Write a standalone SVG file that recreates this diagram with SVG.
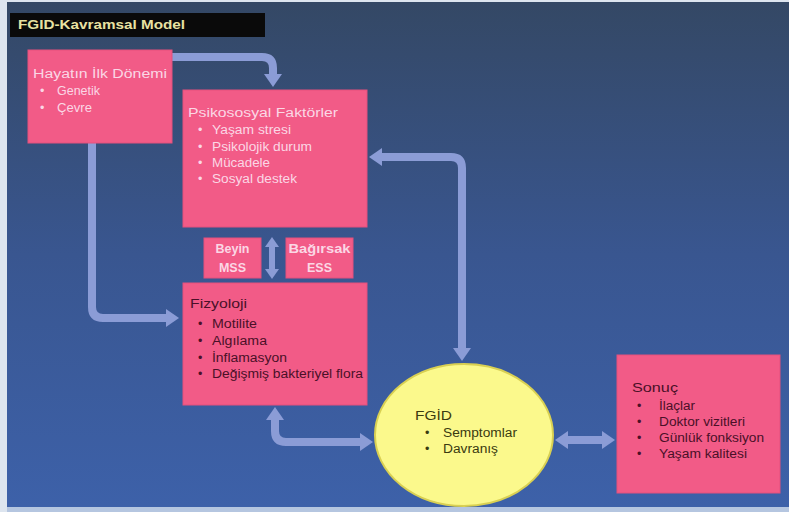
<svg xmlns="http://www.w3.org/2000/svg" width="789" height="512" viewBox="0 0 789 512">
<defs>
<linearGradient id="bg" x1="0" y1="0" x2="0" y2="1">
<stop offset="0" stop-color="#344865"/>
<stop offset="0.5" stop-color="#395690"/>
<stop offset="1" stop-color="#3d61a9"/>
</linearGradient>
<marker id="ah" viewBox="0 -9 13 18" refX="0" refY="0" markerWidth="13" markerHeight="18" markerUnits="userSpaceOnUse" orient="auto-start-reverse">
<path d="M0,-9 L13,0 L0,9 Z" fill="#8b9cd6"/>
</marker>
<marker id="ahs" viewBox="0 -7 10 14" refX="0" refY="0" markerWidth="10" markerHeight="14" markerUnits="userSpaceOnUse" orient="auto-start-reverse">
<path d="M0,-7 L10,0 L0,7 Z" fill="#8b9cd6"/>
</marker>
</defs>
<style>
.box{fill:#f25b87;stroke:#e5507c;stroke-width:1}
.lt{fill:#fbd7e5;font-family:"Liberation Sans",Arial,sans-serif;font-size:12.5px}
.dk{fill:#4a1028;font-family:"Liberation Sans",Arial,sans-serif;font-size:12.5px}
.yk{fill:#3a3a10;font-family:"Liberation Sans",Arial,sans-serif;font-size:12.5px}
.bd{font-weight:bold}
.conn{fill:none;stroke:#8b9cd6;stroke-width:8;marker-end:url(#ah)}
.dbl{marker-start:url(#ah)}
</style>
<rect x="0" y="0" width="789" height="512" fill="#dde5ef"/>
<rect x="7" y="2" width="782" height="505" fill="url(#bg)"/>
<rect x="7" y="507" width="782" height="5" fill="#b5c6e0"/>

<g id="title">
<rect x="10" y="13" width="255" height="24" fill="#0a0a0a"/>
<text x="18" y="29" fill="#e8e2a2" font-family="Liberation Sans,Arial,sans-serif" font-size="12" font-weight="bold" textLength="167" lengthAdjust="spacingAndGlyphs">FGID-Kavramsal Model</text>
</g>

<g id="connectors">
<path class="conn" d="M172,57 H262 Q273,57 273,68 V74"/>
<path class="conn" d="M92,143 V307 Q92,318 103,318 H166"/>
<path class="conn dbl" d="M382,157 H451 Q462,157 462,168 V348"/>
<path class="conn dbl" d="M275,420 V431 Q275,442 286,442 H360"/>
<path class="conn dbl" d="M568,440 H602"/>
<path class="conn" style="stroke-width:6;marker-start:url(#ahs);marker-end:url(#ahs)" d="M272,247 V269"/>
</g>

<g id="hayatin">
<rect class="box" x="28" y="50" width="144" height="93"/>
<text class="lt" x="33" y="78" textLength="134" lengthAdjust="spacingAndGlyphs">Hayatın İlk Dönemi</text>
<text class="lt" x="40" y="95">•</text>
<text class="lt" x="57" y="95" textLength="43" lengthAdjust="spacingAndGlyphs">Genetik</text>
<text class="lt" x="40" y="112">•</text>
<text class="lt" x="57" y="112" textLength="35" lengthAdjust="spacingAndGlyphs">Çevre</text>
</g>

<g id="psikososyal">
<rect class="box" x="183" y="90" width="184" height="137"/>
<text class="lt" x="188" y="117" textLength="150" lengthAdjust="spacingAndGlyphs">Psikososyal Faktörler</text>
<text class="lt" x="198" y="134">•</text>
<text class="lt" x="212" y="134" textLength="79" lengthAdjust="spacingAndGlyphs">Yaşam stresi</text>
<text class="lt" x="198" y="151">•</text>
<text class="lt" x="212" y="151" textLength="100" lengthAdjust="spacingAndGlyphs">Psikolojik durum</text>
<text class="lt" x="198" y="167">•</text>
<text class="lt" x="212" y="167" textLength="58" lengthAdjust="spacingAndGlyphs">Mücadele</text>
<text class="lt" x="198" y="183">•</text>
<text class="lt" x="212" y="183" textLength="85" lengthAdjust="spacingAndGlyphs">Sosyal destek</text>
</g>

<g id="beyin">
<rect class="box" x="204" y="238" width="57" height="40"/>
<text class="lt bd" x="232.5" y="253" text-anchor="middle" font-size="12">Beyin</text>
<text class="lt bd" x="232.5" y="272" text-anchor="middle" font-size="12">MSS</text>
</g>

<g id="bagirsak">
<rect class="box" x="286" y="238" width="67" height="40"/>
<text class="lt bd" x="319.5" y="253" text-anchor="middle" font-size="12" textLength="62" lengthAdjust="spacingAndGlyphs">Bağırsak</text>
<text class="lt bd" x="319.5" y="272" text-anchor="middle" font-size="12">ESS</text>
</g>

<g id="fizyoloji">
<rect class="box" x="183" y="283" width="184" height="122"/>
<text class="dk" x="190" y="308" textLength="57" lengthAdjust="spacingAndGlyphs">Fizyoloji</text>
<text class="dk" x="198" y="328">•</text>
<text class="dk" x="212" y="328" textLength="45" lengthAdjust="spacingAndGlyphs">Motilite</text>
<text class="dk" x="198" y="345">•</text>
<text class="dk" x="212" y="345" textLength="55" lengthAdjust="spacingAndGlyphs">Algılama</text>
<text class="dk" x="198" y="362">•</text>
<text class="dk" x="212" y="362" textLength="75" lengthAdjust="spacingAndGlyphs">İnflamasyon</text>
<text class="dk" x="198" y="378">•</text>
<text class="dk" x="212" y="378" textLength="151" lengthAdjust="spacingAndGlyphs">Değişmiş bakteriyel flora</text>
</g>

<g id="fgid">
<ellipse cx="464" cy="435" rx="89" ry="71" fill="#fbf98c" stroke="#d9d052" stroke-width="2"/>
<text class="yk" x="415" y="420" textLength="37" lengthAdjust="spacingAndGlyphs">FGİD</text>
<text class="yk" x="425" y="437">•</text>
<text class="yk" x="443" y="437" textLength="74" lengthAdjust="spacingAndGlyphs">Semptomlar</text>
<text class="yk" x="425" y="453">•</text>
<text class="yk" x="443" y="453" textLength="55" lengthAdjust="spacingAndGlyphs">Davranış</text>
</g>

<g id="sonuc">
<rect class="box" x="617" y="355" width="163" height="138"/>
<text class="dk" x="632" y="392" textLength="46" lengthAdjust="spacingAndGlyphs">Sonuç</text>
<text class="dk" x="637" y="410">•</text>
<text class="dk" x="659" y="410" textLength="36" lengthAdjust="spacingAndGlyphs">İlaçlar</text>
<text class="dk" x="637" y="426">•</text>
<text class="dk" x="659" y="426" textLength="86" lengthAdjust="spacingAndGlyphs">Doktor vizitleri</text>
<text class="dk" x="637" y="442">•</text>
<text class="dk" x="659" y="442" textLength="105" lengthAdjust="spacingAndGlyphs">Günlük fonksiyon</text>
<text class="dk" x="637" y="458">•</text>
<text class="dk" x="659" y="458" textLength="88" lengthAdjust="spacingAndGlyphs">Yaşam kalitesi</text>
</g>
</svg>
